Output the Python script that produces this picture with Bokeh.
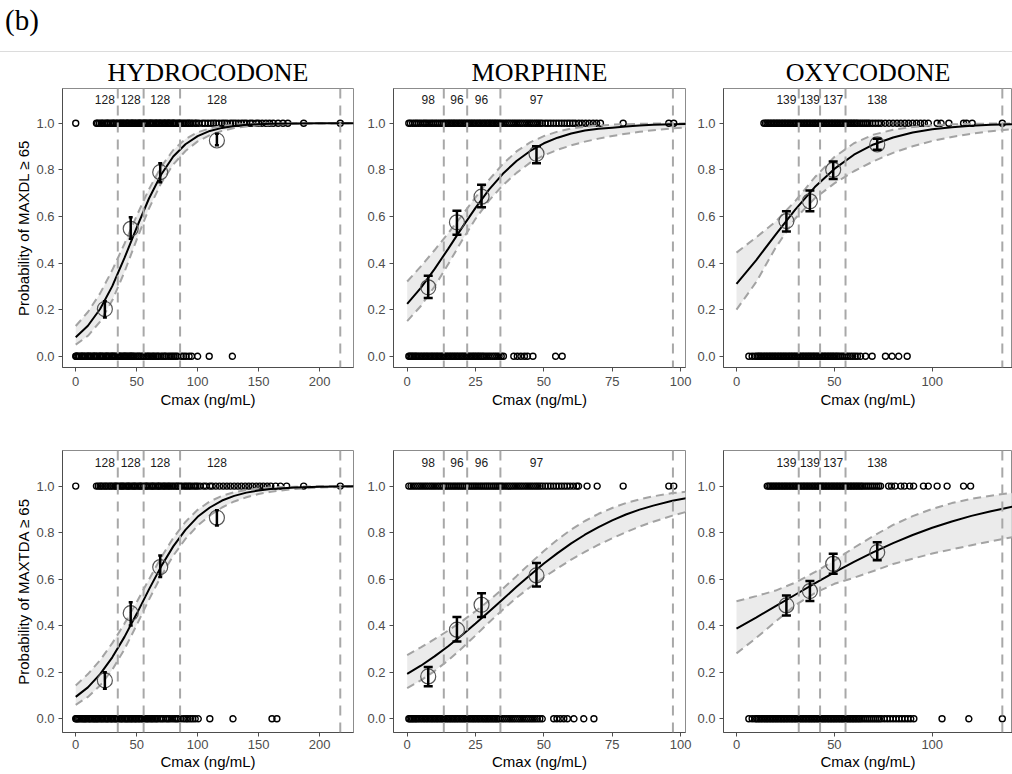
from bokeh.plotting import figure
from bokeh.models import (ColumnDataSource, Span, Whisker, TeeHead, FixedTicker,
                          NumeralTickFormatter, Div, Range1d)
from bokeh.layouts import column, row
from bokeh.embed import file_html
from bokeh.resources import INLINE
from bokeh.core.properties import value

# ------------------------------------------------------------------ data
PANEL_TAG = "(b)"
DRUGS = ["HYDROCODONE", "MORPHINE", "OXYCODONE"]
Y_LABELS = ["Probability of MAXDL \u2265 65", "Probability of MAXTDA \u2265 65"]
X_LABEL = "Cmax (ng/mL)"
Y_TICKS = [0.0, 0.2, 0.4, 0.6, 0.8, 1.0]
HYD_XTICKS = [0, 50, 100, 150, 200]
MOR_XTICKS = [0, 25, 50, 75, 100]
OXY_XTICKS = [0, 50, 100]

# quartile cut points of Cmax (dashed verticals) and bin sizes
HYD_CUTS = [34.5, 55.7, 85.6, 217]
MOR_CUTS = [13.4, 21.95, 34.1, 97.2]
OXY_CUTS = [31.8, 42.7, 55.7, 135.8]
HYD_N = ["128", "128", "128", "128"]
MOR_N = ["98", "96", "96", "97"]
OXY_N = ["139", "139", "137", "138"]

# binned observed proportions (mean Cmax of bin)
HYD_BX = [23.9, 45.1, 69.3, 115.8]
MOR_BX = [7.7, 18.2, 27.2, 47.3]
OXY_BX = [25.5, 37.5, 49.4, 71.9]

H1_P = [0.203, 0.547, 0.790, 0.926]
H1_PLO = [0.167, 0.504, 0.747, 0.905]
H1_PHI = [0.236, 0.597, 0.828, 0.955]
H2_P = [0.165, 0.454, 0.652, 0.864]
H2_PLO = [0.129, 0.401, 0.609, 0.831]
H2_PHI = [0.200, 0.501, 0.702, 0.896]

M1_P = [0.296, 0.575, 0.685, 0.869]
M1_PLO = [0.250, 0.522, 0.640, 0.828]
M1_PHI = [0.346, 0.625, 0.736, 0.901]
M2_P = [0.182, 0.383, 0.490, 0.616]
M2_PLO = [0.140, 0.332, 0.437, 0.569]
M2_PHI = [0.222, 0.437, 0.540, 0.669]

O1_P = [0.580, 0.665, 0.800, 0.909]
O1_PLO = [0.536, 0.622, 0.761, 0.886]
O1_PHI = [0.622, 0.711, 0.836, 0.933]
O2_P = [0.487, 0.549, 0.666, 0.716]
O2_PLO = [0.444, 0.506, 0.623, 0.681]
O2_PHI = [0.530, 0.592, 0.709, 0.759]

# fitted logistic curves with 95% band
HYD_CX = [0, 10, 20, 30, 40, 50, 60, 70, 80, 90, 100, 110, 120, 130, 140, 150, 160, 180, 200, 228]
H1_FIT = [0.082, 0.131, 0.203, 0.301, 0.422, 0.552, 0.676, 0.779, 0.857, 0.910, 0.945, 0.967, 0.980, 0.988, 0.993, 0.996, 0.9975, 0.9991, 0.9997, 0.9999]
H1_LO = [0.050, 0.088, 0.149, 0.240, 0.362, 0.501, 0.633, 0.742, 0.823, 0.881, 0.922, 0.949, 0.967, 0.979, 0.986, 0.991, 0.9943, 0.9977, 0.9991, 0.9997]
H1_HI = [0.130, 0.190, 0.270, 0.370, 0.483, 0.603, 0.716, 0.813, 0.885, 0.932, 0.961, 0.978, 0.988, 0.9934, 0.9964, 0.998, 0.9989, 0.9997, 0.9999, 1.0]
H2_FIT = [0.094, 0.135, 0.192, 0.264, 0.352, 0.451, 0.555, 0.654, 0.741, 0.812, 0.868, 0.908, 0.938, 0.958, 0.972, 0.981, 0.988, 0.9945, 0.9976, 0.9991]
H2_LO = [0.060, 0.094, 0.143, 0.211, 0.299, 0.403, 0.511, 0.613, 0.701, 0.773, 0.830, 0.874, 0.908, 0.934, 0.952, 0.966, 0.9757, 0.9878, 0.9939, 0.9972]
H2_HI = [0.143, 0.192, 0.252, 0.325, 0.409, 0.501, 0.598, 0.693, 0.777, 0.846, 0.898, 0.934, 0.958, 0.974, 0.983, 0.9897, 0.9936, 0.9975, 0.9991, 0.9997]

MOR_CX = [0, 5, 10, 15, 20, 25, 30, 35, 40, 45, 50, 55, 60, 65, 70, 75, 80, 85, 90, 97, 102]
M1_FIT = [0.225, 0.294, 0.374, 0.461, 0.551, 0.637, 0.716, 0.783, 0.838, 0.881, 0.914, 0.938, 0.956, 0.969, 0.976, 0.981, 0.986, 0.990, 0.993, 0.996, 0.997]
M1_LO = [0.151, 0.216, 0.299, 0.395, 0.496, 0.590, 0.669, 0.734, 0.787, 0.831, 0.862, 0.886, 0.905, 0.921, 0.934, 0.945, 0.955, 0.963, 0.970, 0.978, 0.982]
M1_HI = [0.321, 0.386, 0.455, 0.528, 0.604, 0.682, 0.758, 0.825, 0.879, 0.918, 0.945, 0.964, 0.977, 0.985, 0.990, 0.9938, 0.996, 0.9975, 0.9984, 0.9991, 0.9994]
M2_FIT = [0.193, 0.228, 0.268, 0.312, 0.359, 0.409, 0.461, 0.514, 0.567, 0.618, 0.667, 0.712, 0.754, 0.791, 0.824, 0.853, 0.878, 0.899, 0.916, 0.937, 0.948]
M2_LO = [0.132, 0.165, 0.205, 0.251, 0.303, 0.358, 0.415, 0.469, 0.520, 0.566, 0.608, 0.647, 0.684, 0.717, 0.748, 0.776, 0.802, 0.826, 0.847, 0.873, 0.889]
M2_HI = [0.274, 0.307, 0.342, 0.379, 0.419, 0.462, 0.509, 0.559, 0.613, 0.668, 0.721, 0.770, 0.813, 0.850, 0.881, 0.906, 0.927, 0.943, 0.956, 0.970, 0.976]

OXY_CX = [0, 10, 20, 30, 40, 50, 60, 70, 80, 90, 100, 110, 120, 130, 142]
O1_FIT = [0.311, 0.412, 0.522, 0.629, 0.726, 0.804, 0.865, 0.909, 0.939, 0.960, 0.974, 0.983, 0.989, 0.993, 0.9958]
O1_LO = [0.200, 0.318, 0.466, 0.591, 0.678, 0.742, 0.794, 0.837, 0.873, 0.901, 0.924, 0.941, 0.955, 0.966, 0.976]
O1_HI = [0.445, 0.510, 0.578, 0.666, 0.768, 0.855, 0.914, 0.951, 0.972, 0.984, 0.9915, 0.9953, 0.9974, 0.9986, 0.9993]
O2_FIT = [0.387, 0.435, 0.484, 0.533, 0.582, 0.629, 0.674, 0.716, 0.755, 0.790, 0.821, 0.848, 0.872, 0.892, 0.913]
O2_LO = [0.281, 0.347, 0.418, 0.488, 0.540, 0.580, 0.606, 0.635, 0.665, 0.688, 0.710, 0.728, 0.746, 0.763, 0.782]
O2_HI = [0.505, 0.527, 0.551, 0.585, 0.630, 0.680, 0.735, 0.786, 0.833, 0.871, 0.902, 0.927, 0.945, 0.959, 0.972]

# individual observations: Cmax of subjects with outcome 1 (yes) / 0 (no)
H1_YES = [0, 17, 18, 19.5, 21, 22, 23.5, 25, 26, 27, 28.5, 30, 31, 32, 33.5, 34.5, 36, 37, 38, 39, 40,
          41.5, 42, 43, 44, 45.5, 46, 47, 48, 49, 50, 51.5, 52, 53, 54, 55.5, 56, 57, 58, 59, 60.5, 61,
          62, 63, 64, 65.5, 66, 67, 68.5, 69, 70, 71, 72.5, 73, 74, 75.5, 76, 77, 78, 79.5, 80, 81, 82.5,
          84, 85, 86, 87.5, 89, 90.5, 92, 93, 94.5, 96, 98, 99, 101, 104, 106, 108.5, 111, 113, 115,
          117.5, 120, 122, 124, 127, 129, 131, 133.5, 136, 138, 140, 143, 145, 148, 150, 153, 156, 159,
          162, 166, 170, 174, 187, 217]
H1_NO = [0, 0.5, 1, 2, 3, 4.5, 5, 6, 7, 8, 9.5, 10, 11, 12, 13, 14.5, 15, 16, 17, 18, 19.5, 20, 21, 22,
         23, 24.5, 25, 26, 27, 28, 29.5, 30, 31, 32, 33, 34.5, 35, 36, 37, 38, 39.5, 40, 41, 42, 43,
         44.5, 45, 46, 47, 48, 49.5, 51, 52, 53.5, 55, 56, 57.5, 59, 60, 61.5, 63, 64, 65.5, 67, 68, 70,
         71.5, 73, 74, 76, 77.5, 79, 80.5, 82, 83.5, 86.5, 88.5, 90.5, 93, 95, 100, 109.5, 128.5]
H2_YES = [0, 17, 18.5, 20, 21, 22.5, 24, 25, 26.5, 28, 29, 30.5, 32, 33, 34, 35.5, 37, 38, 39, 40.5, 42,
          43, 44, 45.5, 47, 48, 49, 50.5, 52, 53, 54, 55.5, 57, 58, 59, 60.5, 62, 63, 64, 65.5, 67, 68,
          69, 70.5, 72, 73, 74.5, 76, 77, 78.5, 80, 81.5, 83, 84, 85.5, 87, 89, 90.5, 92, 93.5, 95, 97,
          98.5, 100, 102, 105, 107, 110, 112, 115, 118, 121, 124, 127, 130, 133, 136, 139, 142, 145,
          148, 151, 154, 157, 160, 164, 168, 173, 187, 217]
H2_NO = [0, 0.5, 1.5, 2.5, 3.5, 5, 6, 7, 8, 9, 10.5, 11.5, 12.5, 14, 15, 16, 17, 18, 19, 20.5, 21.5, 22.5,
         24, 25, 26, 27, 28.5, 29.5, 30.5, 32, 33, 34, 35, 36.5, 37.5, 38.5, 40, 41, 42, 43, 44.5, 45.5,
         46.5, 48, 49, 50, 51.5, 52.5, 54, 55, 56.5, 58, 59, 60.5, 62, 63, 64.5, 66, 67, 69, 70.5, 72,
         74, 75.5, 77, 79, 81, 82.5, 84, 86, 88.5, 90.5, 92, 94, 96, 98, 100.5, 110, 129, 161, 165]

M1_YES = [0.6, 1.2, 2, 2.8, 3.5, 4.2, 5, 5.8, 6.5, 7.2, 8, 8.8, 9.5, 10.3, 11, 11.8, 12.5, 13.2, 13.8,
          14.4, 15, 15.6, 16.2, 16.8, 17.4, 18, 18.6, 19.2, 19.8, 20.4, 21, 21.6, 22.2, 22.8, 23.4, 24,
          24.6, 25.2, 25.8, 26.4, 27, 27.6, 28.2, 28.8, 29.4, 30, 30.6, 31.2, 31.8, 32.4, 33, 33.6, 34.2,
          35, 35.8, 36.6, 37.4, 38.2, 39, 39.8, 40.6, 41.4, 42.2, 43, 43.8, 44.6, 45.4, 46.2, 47, 47.8,
          48.6, 49.4, 50.5, 51.5, 52.5, 53.5, 54.5, 55.5, 56.5, 57.5, 58.5, 59.5, 60.5, 61.5, 62.8, 64,
          65.3, 66.6, 68, 69.3, 70.7, 79, 95.7, 97.5]
M1_NO = [0.6, 1, 1.5, 2, 2.5, 3, 3.5, 4, 4.6, 5.2, 5.8, 6.4, 7, 7.6, 8.2, 8.8, 9.4, 10, 10.6, 11.2, 11.8,
         12.4, 13, 13.6, 14.2, 14.8, 15.4, 16, 16.6, 17.2, 17.8, 18.4, 19, 19.6, 20.2, 20.8, 21.4, 22,
         22.6, 23.2, 23.8, 24.4, 25, 25.6, 26.2, 26.8, 27.4, 28, 28.8, 29.6, 30.4, 31.2, 32, 32.8, 33.6,
         34.4, 35.2, 39, 40.3, 41.6, 42.9, 44, 46, 54.3, 56.7]
M2_YES = [0.6, 1.4, 2.2, 3, 3.8, 4.6, 5.4, 6.2, 7, 7.8, 8.6, 9.4, 10.2, 11, 11.8, 12.6, 13.3, 14, 14.7,
          15.4, 16.1, 16.8, 17.5, 18.2, 18.9, 19.6, 20.3, 21, 21.7, 22.4, 23.1, 23.8, 24.5, 25.2, 25.9,
          26.6, 27.3, 28, 28.7, 29.4, 30.1, 30.8, 31.5, 32.2, 32.9, 33.6, 34.3, 35, 35.8, 36.6, 37.4,
          38.2, 39, 39.8, 40.6, 41.4, 42.2, 43, 43.8, 44.6, 45.4, 46.2, 47, 47.8, 48.6, 49.5, 50.5, 51.5,
          52.5, 53.5, 54.5, 55.5, 56.5, 57.5, 58.5, 59.6, 60.8, 62, 62.7, 65.8, 69.5, 79, 95.7, 97.5]
M2_NO = [0.6, 1, 1.5, 2, 2.5, 3, 3.5, 4, 4.6, 5.2, 5.8, 6.4, 7, 7.6, 8.2, 8.8, 9.4, 10, 10.6, 11.2, 11.8,
         12.4, 13, 13.6, 14.2, 14.8, 15.4, 16, 16.6, 17.2, 17.8, 18.4, 19, 19.6, 20.2, 20.8, 21.4, 22,
         22.6, 23.2, 23.8, 24.4, 25, 25.6, 26.2, 26.8, 27.4, 28, 28.6, 29.2, 29.8, 30.4, 31, 31.6, 32.2,
         32.8, 33.4, 34, 34.8, 35.6, 36.4, 37.2, 38, 38.8, 39.6, 40.4, 41.2, 42, 42.8, 43.6, 44.4, 45.2,
         46, 46.8, 47.6, 48.5, 49.4, 53.6, 54.8, 56, 57.3, 58.6, 61, 64.6, 68.3]

O1_YES = [14, 14.8, 15.6, 16.4, 17.2, 18, 18.8, 19.6, 20.4, 21.2, 22, 22.8, 23.6, 24.4, 25.2, 26, 26.8,
          27.6, 28.4, 29.2, 30, 30.8, 31.6, 32.4, 33.2, 34, 34.8, 35.6, 36.4, 37.2, 38, 38.8, 39.6, 40.4,
          41.2, 42, 42.8, 43.6, 44.4, 45.2, 46, 46.8, 47.6, 48.4, 49.2, 50, 50.8, 51.6, 52.4, 53.2, 54,
          54.8, 55.6, 56.4, 57.2, 58, 58.8, 59.6, 60.4, 61.2, 62, 63, 64, 65, 66, 67, 68, 69.5, 71, 72.5,
          74, 76, 78, 80, 82, 84, 86, 88, 90, 92, 94, 96, 98, 102.5, 104.5, 108.5, 116, 117.5, 120.4, 135.8]
O1_NO = [6.3, 8, 9.5, 10.5, 11.3, 12, 12.8, 13.6, 14.4, 15.2, 16, 16.8, 17.6, 18.4, 19.2, 20, 20.8, 21.6,
         22.4, 23.2, 24, 24.8, 25.6, 26.4, 27.2, 28, 28.8, 29.6, 30.4, 31.2, 32, 32.8, 33.6, 34.4, 35.2,
         36, 36.8, 37.6, 38.4, 39.2, 40, 40.8, 41.6, 42.4, 43.2, 44, 44.8, 45.6, 46.4, 47.2, 48, 48.8,
         49.6, 50.4, 51.2, 52, 53, 54, 55, 56, 57, 58.2, 59.4, 60.6, 61.8, 63.4, 65.9, 69.3, 76.1, 79.5,
         82.9, 87.2]
O2_YES = [15.7, 16.5, 17.3, 18.1, 18.9, 19.7, 20.5, 21.3, 22.1, 22.9, 23.7, 24.5, 25.3, 26.1, 26.9, 27.7,
          28.5, 29.3, 30.1, 30.9, 31.7, 32.5, 33.3, 34.1, 34.9, 35.7, 36.5, 37.3, 38.1, 38.9, 39.7, 40.5,
          41.3, 42.1, 42.9, 43.7, 44.5, 45.3, 46.1, 46.9, 47.7, 48.5, 49.3, 50.1, 50.9, 51.7, 52.5, 53.3,
          54.1, 54.9, 55.7, 56.5, 57.3, 58.1, 58.9, 59.7, 60.5, 61.3, 62.1, 62.9, 63.7, 64.5, 65.5, 66.5,
          67.5, 68.5, 69.5, 70.5, 71.6, 72.6, 73.6, 77.7, 79.2, 81, 84, 85.8, 88.5, 90.5, 95.5, 98, 102.5,
          107.6, 116, 119.6]
O2_NO = [6.3, 8, 9.5, 10.3, 11.1, 11.9, 12.7, 13.5, 14.3, 15.1, 15.9, 16.7, 17.5, 18.3, 19.1, 19.9, 20.7,
         21.5, 22.3, 23.1, 23.9, 24.7, 25.5, 26.3, 27.1, 27.9, 28.7, 29.5, 30.3, 31.1, 31.9, 32.7, 33.5,
         34.3, 35.1, 35.9, 36.7, 37.5, 38.3, 39.1, 39.9, 40.7, 41.5, 42.3, 43.1, 43.9, 44.7, 45.5, 46.3,
         47.1, 47.9, 48.7, 49.5, 50.3, 51.1, 51.9, 52.7, 53.5, 54.3, 55.1, 55.9, 56.7, 57.5, 58.3, 59.1,
         59.9, 60.7, 61.5, 62.3, 63.1, 64, 65, 66, 67, 68, 69, 70, 71, 72, 73, 74, 75.5, 77, 78.5, 80,
         81.5, 83, 84.5, 86, 87.5, 89, 90.6, 105, 118.7, 135.8]

# ------------------------------------------------------------------ styling helpers
SANS = "Liberation Sans"
SERIF = "Liberation Serif"


def make_panel(title, ylabel, xr, yr, xticks, frame_w, frame_h, borders, x_std,
               cx, fit, lo, hi, yes, no, bx, bp, blo, bhi, counts, cuts, cap):
    left, right, top, bottom = borders
    p = figure(frame_width=frame_w, frame_height=frame_h,
               min_border_left=left, min_border_right=right,
               min_border_top=top, min_border_bottom=bottom,
               x_range=Range1d(*xr), y_range=Range1d(*yr),
               output_backend="svg", toolbar_location=None,
               title=title)
    p.background_fill_color = "white"
    p.border_fill_color = "white"
    p.outline_line_color = "#8c8c8c"
    p.outline_line_width = 1
    p.xgrid.visible = False
    p.ygrid.visible = False
    if title:
        p.title.text_font = SERIF
        p.title.text_font_size = "26px"
        p.title.text_font_style = "normal"
        p.title.text_color = "black"
        p.title.align = "center"
        p.title.standoff = 3

    for ax in (p.xaxis[0], p.yaxis[0]):
        ax.major_tick_in = 0
        ax.major_tick_out = 4
        ax.minor_tick_line_color = None
        ax.axis_line_color = "#4d4d4d"
        ax.major_tick_line_color = "#4d4d4d"
        ax.major_label_text_font = SANS
        ax.major_label_text_font_size = "13px"
        ax.major_label_text_color = "#4d4d4d"
        ax.axis_label_text_font = SANS
        ax.axis_label_text_font_size = "15px"
        ax.axis_label_text_font_style = "normal"
        ax.axis_label_text_color = "black"
    p.xaxis.ticker = FixedTicker(ticks=xticks)
    p.yaxis.ticker = FixedTicker(ticks=Y_TICKS)
    p.yaxis.formatter = NumeralTickFormatter(format="0.0")
    p.xaxis.axis_label = X_LABEL
    p.xaxis.major_label_standoff = x_std[0]
    p.xaxis.axis_label_standoff = x_std[1]
    p.yaxis.major_label_standoff = 4
    p.yaxis.axis_label_standoff = 1
    if ylabel:
        p.yaxis.axis_label = ylabel

    # confidence ribbon
    p.varea(x=cx, y1=lo, y2=hi, fill_color="#e6e6e6", fill_alpha=0.8)
    # individual observations
    p.scatter(x=yes, y=[1] * len(yes), size=6, fill_color=None,
              line_color="black", line_width=1.4)
    p.scatter(x=no, y=[0] * len(no), size=6, fill_color=None,
              line_color="black", line_width=1.4)
    # band edges and fit
    p.line(x=cx, y=lo, line_color="#a3a3a3", line_width=2, line_dash="8 5")
    p.line(x=cx, y=hi, line_color="#a3a3a3", line_width=2, line_dash="8 5")
    p.line(x=cx, y=fit, line_color="black", line_width=2)
    # quartile boundaries
    for c in cuts:
        p.add_layout(Span(location=c, dimension="height", line_color="#a8a8a8",
                          line_width=2, line_dash="10 7"))
    # binned proportions
    src = ColumnDataSource(dict(x=bx, p=bp, lo=blo, hi=bhi, n=counts,
                                ty=[1.1] * len(bx)))
    p.scatter(x="x", y="p", source=src, size=15, fill_color=None,
              line_color="#555555", line_width=1.2)
    p.add_layout(Whisker(source=src, base="x", lower="lo", upper="hi",
                         line_color="black", line_width=2.5, level="annotation",
                         lower_head=TeeHead(size=cap, line_width=2.5, line_color="black"),
                         upper_head=TeeHead(size=cap, line_width=2.5, line_color="black")))
    p.text(x="x", y="ty", text="n", source=src, text_font=value(SANS),
           text_font_size="12px", text_align="center", text_baseline="middle",
           text_color="#1a1a1a")
    return p


TOP_YR = (-0.048, 1.149)
BOT_YR = (-0.059, 1.153)
HYD_XR = (-10.85, 227.85)
MOR_XR = (-5.0, 101.8)
OXY_XR = (-6.64, 141.0)

top_b = [(62, 7, 35, 53), (33, 7, 35, 53), (31, 0, 35, 53)]
bot_b = [(62, 7, 30, 42), (33, 7, 30, 42), (31, 0, 30, 42)]

f1 = make_panel(DRUGS[0], Y_LABELS[0], HYD_XR, TOP_YR, HYD_XTICKS, 291, 279, top_b[0], (5, 2),
                HYD_CX, H1_FIT, H1_LO, H1_HI, H1_YES, H1_NO, HYD_BX, H1_P, H1_PLO, H1_PHI,
                HYD_N, HYD_CUTS, 4)
f2 = make_panel(DRUGS[1], None, MOR_XR, TOP_YR, MOR_XTICKS, 292, 279, top_b[1], (5, 2),
                MOR_CX, M1_FIT, M1_LO, M1_HI, M1_YES, M1_NO, MOR_BX, M1_P, M1_PLO, M1_PHI,
                MOR_N, MOR_CUTS, 9)
f3 = make_panel(DRUGS[2], None, OXY_XR, TOP_YR, OXY_XTICKS, 289, 279, top_b[2], (5, 2),
                OXY_CX, O1_FIT, O1_LO, O1_HI, O1_YES, O1_NO, OXY_BX, O1_P, O1_PLO, O1_PHI,
                OXY_N, OXY_CUTS, 9)
f4 = make_panel(None, Y_LABELS[1], HYD_XR, BOT_YR, HYD_XTICKS, 291, 282, bot_b[0], (3, 1),
                HYD_CX, H2_FIT, H2_LO, H2_HI, H2_YES, H2_NO, HYD_BX, H2_P, H2_PLO, H2_PHI,
                HYD_N, HYD_CUTS, 4)
f5 = make_panel(None, None, MOR_XR, BOT_YR, MOR_XTICKS, 292, 282, bot_b[1], (3, 1),
                MOR_CX, M2_FIT, M2_LO, M2_HI, M2_YES, M2_NO, MOR_BX, M2_P, M2_PLO, M2_PHI,
                MOR_N, MOR_CUTS, 9)
f6 = make_panel(None, None, OXY_XR, BOT_YR, OXY_XTICKS, 289, 282, bot_b[2], (3, 1),
                OXY_CX, O2_FIT, O2_LO, O2_HI, O2_YES, O2_NO, OXY_BX, O2_P, O2_PLO, O2_PHI,
                OXY_N, OXY_CUTS, 9)

header = Div(text=(
    '<div style="position:relative;width:1012px;height:52px;'
    'border-bottom:1px solid #dcdcdc;">'
    '<span style="position:absolute;left:5px;top:6px;font-family:\'Liberation Serif\';'
    'font-size:29px;line-height:1;color:black;">' + PANEL_TAG + '</span></div>'),
    width=1012, height=53, margin=0)

layout = column(header, row(f1, f2, f3), row(f4, f5, f6))
open("out.html", "w").write(file_html(layout, INLINE))
